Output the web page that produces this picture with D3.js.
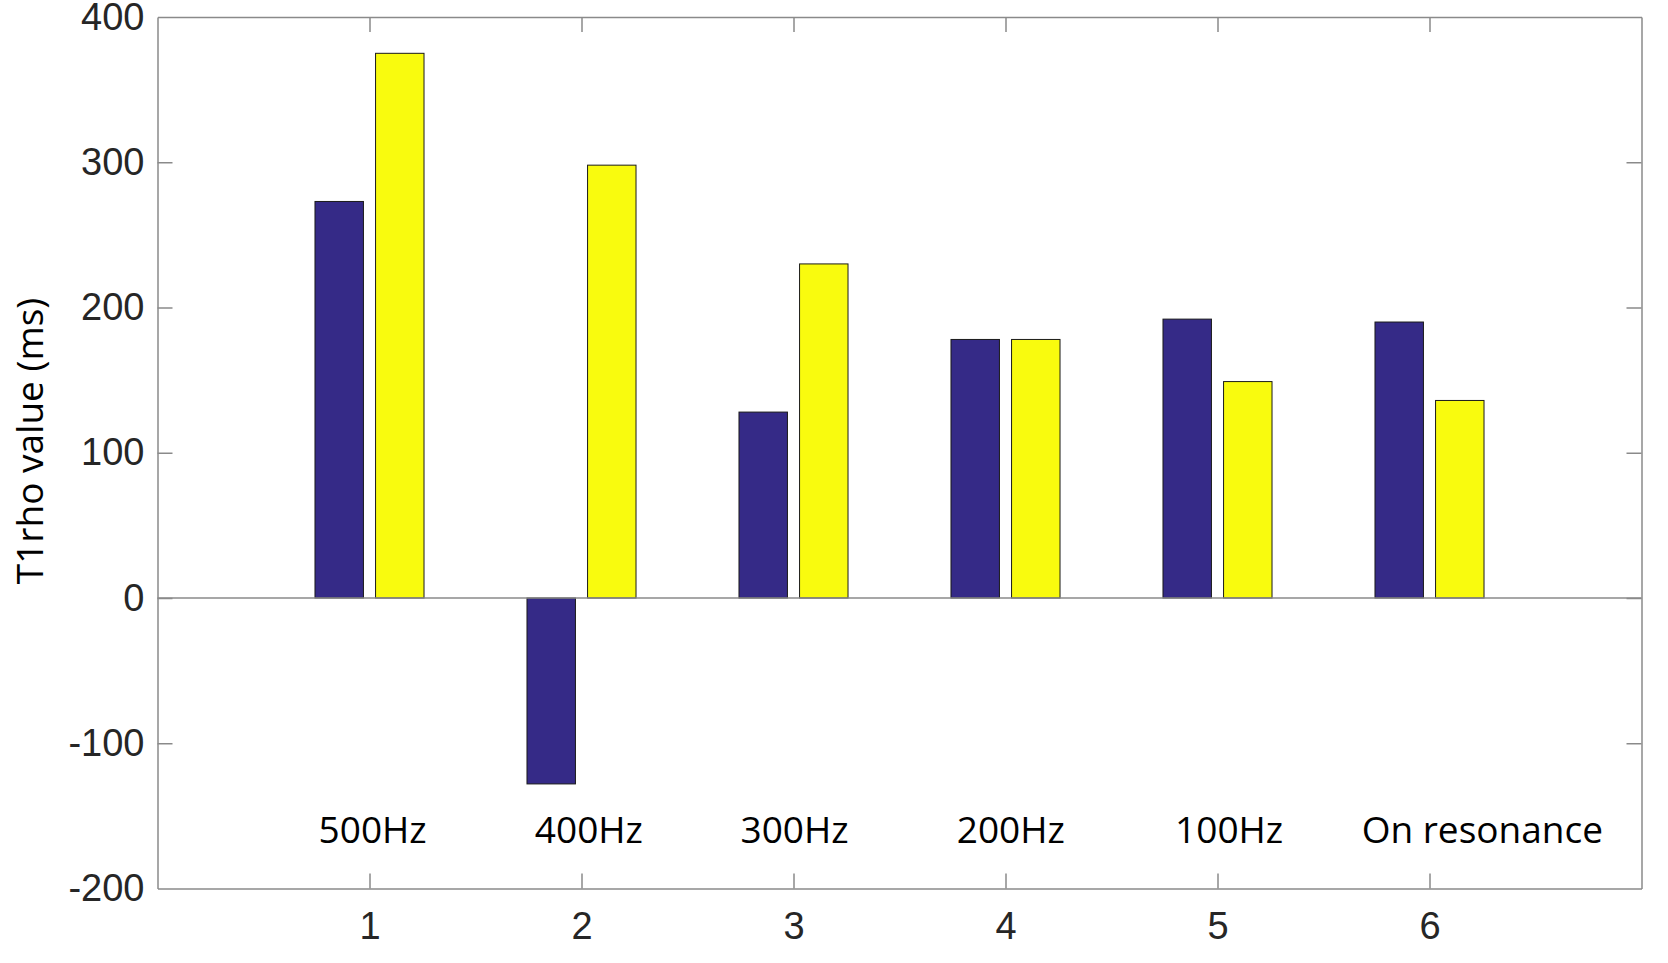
<!DOCTYPE html>
<html>
<head>
<meta charset="utf-8">
<script src="https://cdn.jsdelivr.net/npm/d3@7"></script>
<style>
  html, body { margin: 0; padding: 0; background: #fff; }
  svg { display: block; }
</style>
</head>
<body>
<svg id="chart" width="1668" height="963"></svg>
<script>
// ---- data ----
const groups = [1, 2, 3, 4, 5, 6];
const seriesBlue = [273, -128, 128, 178, 192, 190];
const seriesYellow = [375, 298, 230, 178, 149, 136];
const groupLabels = ["500Hz", "400Hz", "300Hz", "200Hz", "100Hz", "On resonance"];
const groupLabelX = [0.76, 1.78, 2.75, 3.77, 4.80, 5.68];   // annotation x in data units
const yTicks = [-200, -100, 0, 100, 200, 300, 400];
const xTicks = [1, 2, 3, 4, 5, 6];
const yLabel = "T1rho value (ms)";

// ---- layout ----
const W = 1668, H = 963;
const L = 157.5, R = 1641.5, T = 17, B = 888.5;
const svg = d3.select("#chart");

const x = d3.scaleLinear().domain([0, 7]).range([L, R]);
const y = d3.scaleLinear().domain([-200, 400]).range([B, T]);

const axisColor = "#8a8a8a";
const textColor = "#262626";
const groupWidth = 2 / 3.5;          // MATLAB grouped bar
const barW = 0.8 * groupWidth / 2;
const offs = [-groupWidth / 4, groupWidth / 4];
const series = [
  { values: seriesBlue, color: "#352a87" },
  { values: seriesYellow, color: "#f9fb0e" }
];

// bars
series.forEach((s, si) => {
  svg.append("g").selectAll("rect")
    .data(groups.map((g, i) => ({ g, v: s.values[i] })))
    .join("rect")
    .attr("x", d => x(d.g + offs[si] - barW / 2))
    .attr("width", d => x(barW) - x(0))
    .attr("y", d => y(Math.max(0, d.v)))
    .attr("height", d => Math.abs(y(d.v) - y(0)))
    .attr("fill", s.color)
    .attr("stroke", "#1a1a1a")
    .attr("stroke-width", 1);
});

// baseline
svg.append("line")
  .attr("x1", L).attr("x2", R)
  .attr("y1", y(0)).attr("y2", y(0))
  .attr("stroke", axisColor).attr("stroke-width", 1.5);

// axes
function styleAxis(g) {
  g.selectAll(".domain").attr("stroke", axisColor).attr("stroke-width", 1.5);
  g.selectAll(".tick line").attr("stroke", axisColor).attr("stroke-width", 1.5);
  g.selectAll(".tick text").attr("fill", textColor)
    .style("font-family", "'Liberation Sans', Arial, sans-serif")
    .style("font-size", "38px");
}
svg.append("g").attr("transform", `translate(${L},0)`)
  .call(d3.axisLeft(y).tickValues(yTicks).tickSize(-15).tickSizeOuter(0).tickPadding(13)
    .tickFormat(d => String(d)))
  .call(styleAxis);
svg.append("g").attr("transform", `translate(${R},0)`)
  .call(d3.axisRight(y).tickValues(yTicks).tickSize(-15).tickSizeOuter(0).tickFormat(""))
  .call(styleAxis);
svg.append("g").attr("transform", `translate(0,${B})`)
  .call(d3.axisBottom(x).tickValues(xTicks).tickSize(-15).tickSizeOuter(0).tickPadding(24)
    .tickFormat(d => String(d)))
  .call(styleAxis);
svg.append("g").attr("transform", `translate(0,${T})`)
  .call(d3.axisTop(x).tickValues(xTicks).tickSize(-15).tickSizeOuter(0).tickFormat(""))
  .call(styleAxis);
// remove tick marks at the ends of y-axes (box corners)
svg.selectAll(".tick").filter(d => d === 400 || d === -200).select("line").remove();

// annotations
svg.append("g").selectAll("text")
  .data(groupLabels.map((t, i) => ({ t, xv: groupLabelX[i] })))
  .join("text")
  .attr("x", d => x(d.xv))
  .attr("y", 843)
  .attr("fill", "#000")
  .style("font-family", "'Open Sans', sans-serif")
  .style("font-size", "37px")
  .text(d => d.t);

// y label
svg.append("text")
  .attr("transform", `translate(43,441) rotate(-90)`)
  .attr("text-anchor", "middle")
  .attr("fill", "#000")
  .style("font-family", "'Open Sans', sans-serif")
  .style("font-size", "37px")
  .text(yLabel);
</script>
</body>
</html>
